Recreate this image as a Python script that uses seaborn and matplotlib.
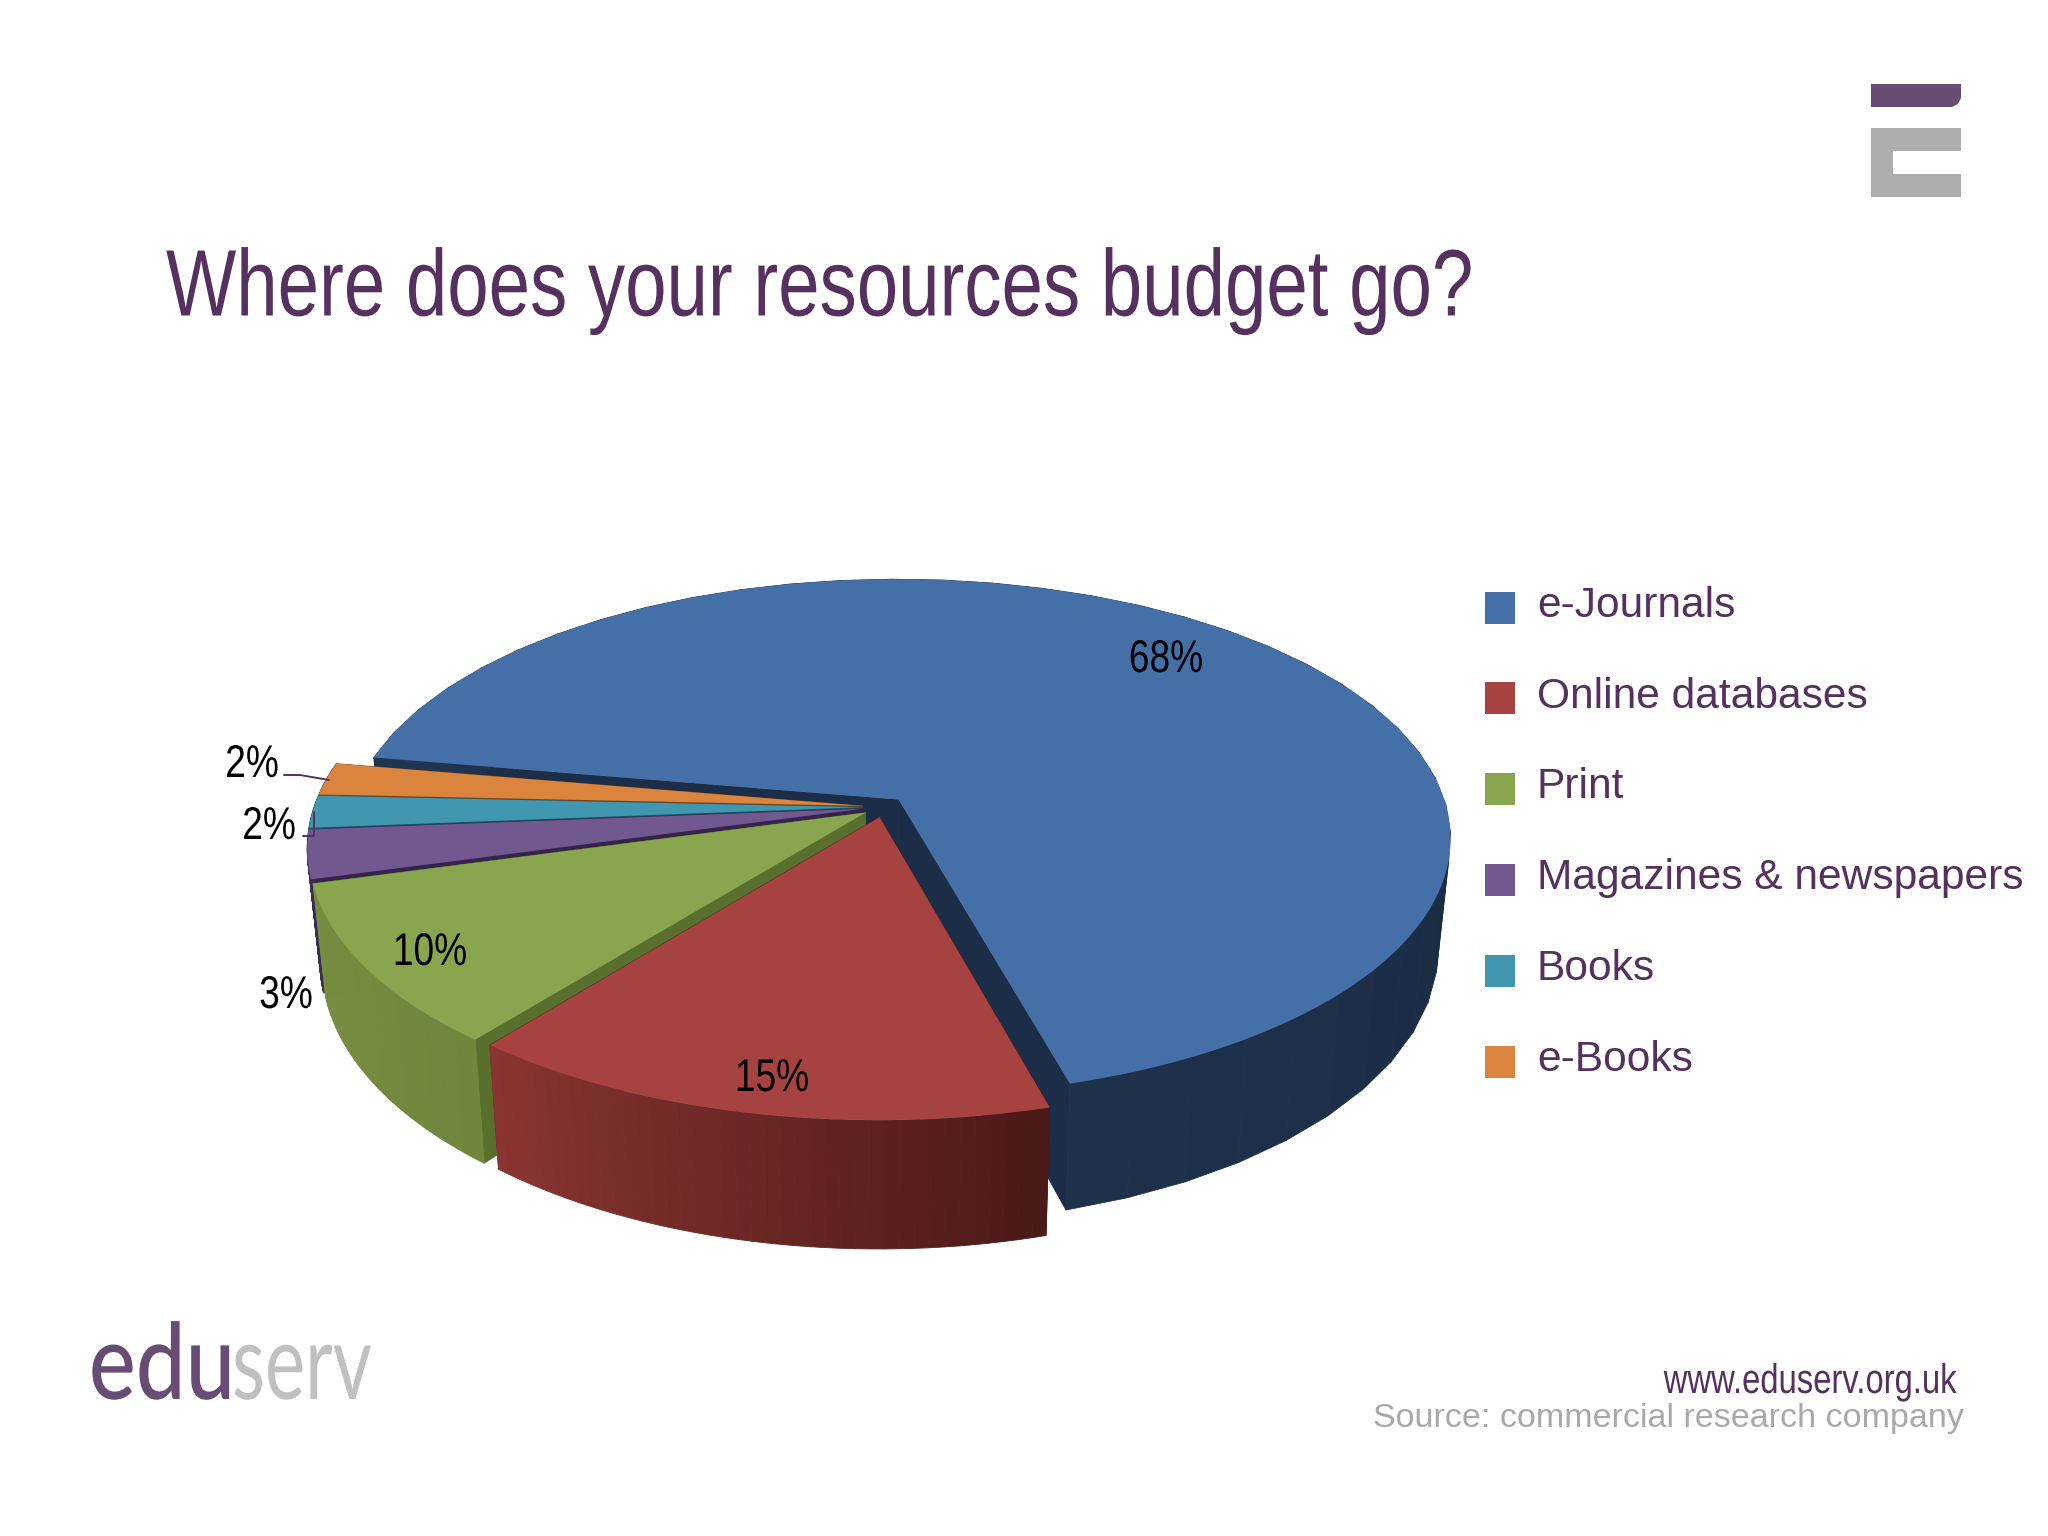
import numpy as np
import matplotlib
matplotlib.use("Agg")
import matplotlib.pyplot as plt
import seaborn as sns
from matplotlib.patches import Patch, Polygon, Rectangle
from matplotlib.patheffects import AbstractPathEffect
from matplotlib.transforms import Affine2D, Transform

# data
categories = ["e-Journals", "Online databases", "Print",
              "Magazines & newspapers", "Books", "e-Books"]
shares = [68, 15, 10, 3, 2, 2]

top_colors = ["#4570A7", "#A64341", "#89A54E", "#71588F", "#4197AF", "#DB843D"]
rim_left = ["#20344F", "#8A3532", "#778E42", "#3D2C55", "#1F5A6A", "#8A4F22"]
rim_right = ["#1B2C45", "#4B1917", "#6F863C", "#3D2C55", "#1F5A6A", "#8A4F22"]
cut_colors = ["#1B2D47", "#4B1917", "#586F2E", "#34244A", "#1B4F5E", "#7A4218"]

PURPLE = "#56305F"
GREY = "#A9A9AD"
LOGO_FONT = ["Lato", "DejaVu Sans"]

sns.set_theme(style="white")
plt.rcParams["font.family"] = ["Liberation Sans", "DejaVu Sans"]


# tilted disc: unit pie coordinates -> pixel coordinates, z=1 is the bottom face
class TiltTransform(Transform):
    input_dims = 2
    output_dims = 2

    def __init__(self, z=0.0):
        super().__init__()
        self.z = z

    def transform_non_affine(self, values):
        values = np.asarray(values, dtype=float)
        u, v = values[:, 0], values[:, 1]
        w = 1 + 0.148 * v
        x = 884 + 548 * u / w * (1 - 0.022 * self.z)
        y = 807 - 255 * v / w + 109 * self.z / w
        return np.column_stack([x, y])


# no narrow font installed, so squeeze the glyphs sideways around the anchor
class SqueezeX(AbstractPathEffect):
    def __init__(self, factor, anchor):
        super().__init__()
        self.factor = factor
        self.anchor = anchor

    def draw_path(self, renderer, gc, tpath, affine, rgbFace=None):
        squeeze = Affine2D().translate(-self.anchor, 0).scale(self.factor, 1).translate(self.anchor, 0)
        renderer.draw_path(gc, tpath, affine + squeeze, rgbFace)


def narrow_text(x, y, s, factor, **kwargs):
    t = ax.text(x, y, s, **kwargs)
    t.set_path_effects([SqueezeX(factor, x)])
    return t


top = TiltTransform(0.0)
bottom = TiltTransform(1.0)

fig = plt.figure(figsize=(20.48, 15.36), dpi=100, facecolor="white")
ax = fig.add_axes([0, 0, 1, 1])

wedges, _ = ax.pie(shares, colors=top_colors, startangle=170.2, counterclock=False,
                   explode=[0.04] * len(shares), radius=1, normalize=True)
ax.set_aspect("auto")
ax.set_xlim(0, 2048)
ax.set_ylim(1536, 0)
ax.axis("off")

# back to front: blue, then the thin slices, green, red
draw_order = [0, 5, 4, 3, 2, 1]
for rank, i in enumerate(draw_order):
    wedge = wedges[i]
    base_z = 2 + rank * 3
    c = np.array(wedge.center)
    angles = np.radians(np.linspace(wedge.theta1, wedge.theta2, 41))
    rim = c + wedge.r * np.column_stack([np.cos(angles), np.sin(angles)])
    rim_top = top.transform_non_affine(rim)
    rim_bot = bottom.transform_non_affine(rim)

    # radial faces
    for end in (0, -1):
        pts = np.vstack([top.transform_non_affine(c[None, :]), rim_top[end],
                         rim_bot[end], bottom.transform_non_affine(c[None, :])])
        ax.fill(pts[:, 0], pts[:, 1], color=cut_colors[i], lw=0.5, zorder=base_z)

    # outer rim, shaded left to right
    shades = sns.blend_palette([rim_left[i], rim_right[i]], len(angles) - 1)
    order = np.argsort(rim_top[:-1, 0])
    for s, k in enumerate(order):
        pts = np.vstack([rim_top[k], rim_top[k + 1], rim_bot[k + 1], rim_bot[k]])
        ax.fill(pts[:, 0], pts[:, 1], color=shades[s], lw=0.6, zorder=base_z + 1)

    wedge.set_transform(top + ax.transData)
    wedge.set_zorder(base_z + 2)
    wedge.set_linewidth(0)

# percent labels
label_xy = [(1166, 660), (772, 1079), (430, 953), (286, 996), (269, 827), (252, 765)]
for value, (lx, ly) in zip(shares, label_xy):
    narrow_text(lx, ly, f"{value}%", 0.81, fontsize=33, color="black",
                ha="center", va="center", zorder=40)

# leader lines for the small slices
ax.plot([284, 300, 329], [775, 775, 780], color=PURPLE, lw=1.4, zorder=39)
ax.plot([303, 314, 314], [836, 836, 812], color=PURPLE, lw=1.4, zorder=39)

# title and footer
narrow_text(166, 291, "Where does your resources budget go?", 0.788, fontsize=68,
            color=PURPLE, ha="left", va="center")
narrow_text(1956, 1382, "www.eduserv.org.uk", 0.787, fontsize=30, color=PURPLE,
            ha="right", va="center")
ax.text(1964, 1419, "Source: commercial research company", fontsize=24.5, color=GREY,
        ha="right", va="center")

# legend
handles = [Patch(facecolor=c, edgecolor="none") for c in top_colors]
leg = ax.legend(handles, categories, loc="upper left", bbox_to_anchor=(0.7249, 0.6186),
                frameon=False, fontsize=30.6, labelcolor=PURPLE, handlelength=0.72,
                handleheight=0.78, handletextpad=0.51, labelspacing=1.196, borderpad=0,
                borderaxespad=0)
for p in leg.get_patches():
    p.set_y(p.get_y() - 4)

# eduserv logo
narrow_text(235, 1369, "edu", 0.84, fontsize=76, family=LOGO_FONT, color="#674C73",
            ha="right", va="center", weight="medium")
narrow_text(232, 1369, "serv", 0.72, fontsize=76, family=LOGO_FONT, color="#C0C0C0",
            ha="left", va="center")

# corner mark
ax.add_patch(Polygon([(1871, 84), (1961, 84), (1961, 98), (1958, 104), (1952, 107), (1871, 107)],
                     closed=True, facecolor="#674C73", edgecolor="none"))
ax.add_patch(Rectangle((1871, 128), 90, 69, facecolor="#ADADAD", edgecolor="none"))
ax.add_patch(Rectangle((1893, 151), 68, 23, facecolor="white", edgecolor="none"))

fig.savefig("out.png", dpi=100, facecolor="white")
